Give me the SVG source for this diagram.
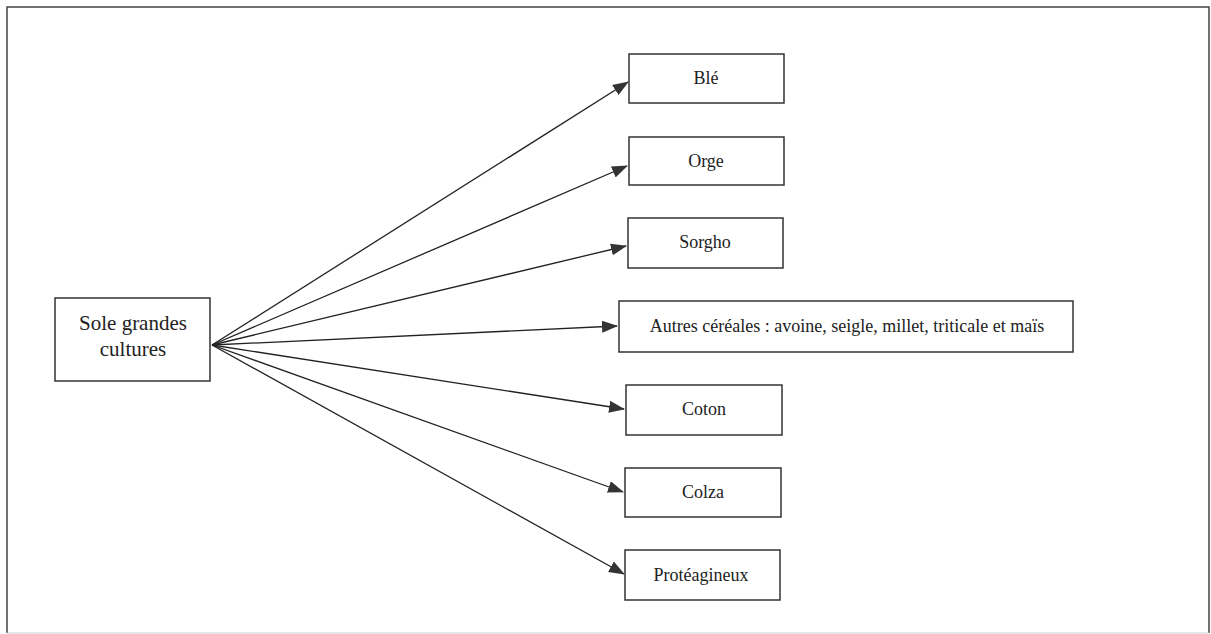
<svg xmlns="http://www.w3.org/2000/svg" width="1211" height="634" viewBox="0 0 1211 634">
<style>
.box{fill:#fff;stroke:#333;stroke-width:1.5}
.t{font-family:"Liberation Serif",serif;font-size:18px;fill:#222;text-anchor:middle}
.s{font-size:21px}
.c{stroke:#222;stroke-width:1.3;fill:none;marker-end:url(#ah)}
</style>
<defs>
<marker id="ah" markerWidth="16" markerHeight="12" refX="15" refY="6" orient="auto" markerUnits="userSpaceOnUse">
<path d="M0,0 L16,6 L0,12 Z" fill="#333"/>
</marker>
</defs>
<rect x="0" y="0" width="1211" height="634" fill="#fff"/>
<path d="M7,633 L7,7 L1209,7 L1209,633" fill="none" stroke="#444" stroke-width="1.5"/>
<line x1="7" y1="633" x2="1209" y2="633" stroke="#ccc" stroke-width="1"/>
<g id="connectors">
<line class="c" x1="212" y1="345" x2="628" y2="82"/>
<line class="c" x1="212" y1="345" x2="627" y2="166"/>
<line class="c" x1="212" y1="345" x2="626" y2="246"/>
<line class="c" x1="212" y1="345" x2="617" y2="326"/>
<line class="c" x1="212" y1="345" x2="624" y2="409"/>
<line class="c" x1="212" y1="345" x2="623" y2="492"/>
<line class="c" x1="212" y1="345" x2="624" y2="574"/>
</g>
<g id="source">
<rect class="box" x="55" y="298" width="155" height="83"/>
<text class="t s" x="133" y="330">Sole grandes</text>
<text class="t s" x="133" y="356">cultures</text>
</g>
<g id="ble">
<rect class="box" x="629" y="54" width="155" height="49"/>
<text class="t" x="706" y="84">Blé</text>
</g>
<g id="orge">
<rect class="box" x="629" y="137" width="155" height="48"/>
<text class="t" x="706" y="167">Orge</text>
</g>
<g id="sorgho">
<rect class="box" x="628" y="218" width="155" height="50"/>
<text class="t" x="705" y="248">Sorgho</text>
</g>
<g id="autres">
<rect class="box" x="619" y="301" width="454" height="51"/>
<text class="t" x="847" y="332">Autres céréales : avoine, seigle, millet, triticale et maïs</text>
</g>
<g id="coton">
<rect class="box" x="626" y="385" width="156" height="50"/>
<text class="t" x="704" y="415">Coton</text>
</g>
<g id="colza">
<rect class="box" x="625" y="468" width="156" height="49"/>
<text class="t" x="703" y="498">Colza</text>
</g>
<g id="proteagineux">
<rect class="box" x="625" y="550" width="155" height="50"/>
<text class="t" x="701" y="581">Protéagineux</text>
</g>
</svg>
